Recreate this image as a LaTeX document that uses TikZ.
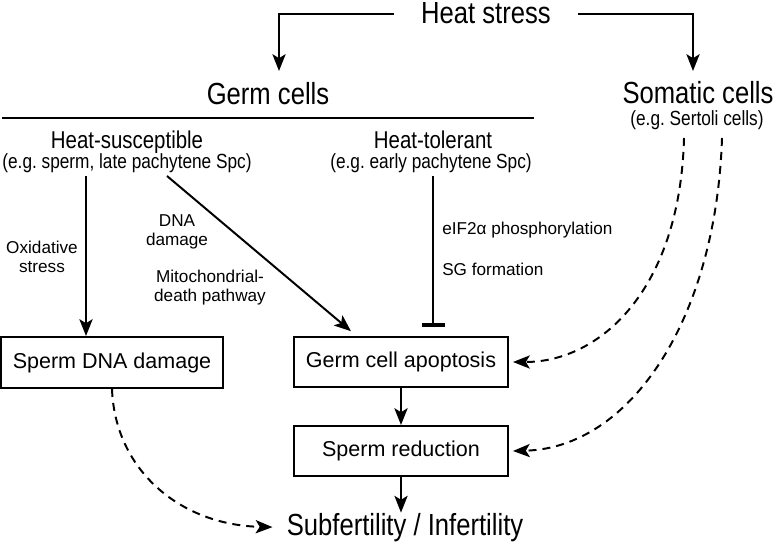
\documentclass[tikz,border=0pt]{standalone}
\usepackage{fontspec}
\setmainfont{Liberation Sans}
\newfontfamily\narrowfont{Liberation Sans}[FakeStretch=0.84]
\usetikzlibrary{arrows.meta}
\frenchspacing

\tikzset{
  arr/.style={-{Stealth[length=0.42cm,width=0.33cm,inset=0.1cm]}, line width=1.4pt},
  dasharr/.style={arr, dash pattern=on 0.2cm off 0.15cm},
  box/.style={draw, line width=1.4pt, minimum width=5.35cm, minimum height=1.25cm,
    inner sep=0pt, font=\fontsize{15.3}{18}\selectfont},
  bigtext/.style={inner sep=0pt, font=\narrowfont\fontsize{21.7}{26}\selectfont},
  midtext/.style={inner sep=0pt, font=\narrowfont\fontsize{17.3}{22}\selectfont},
  egtext/.style={inner sep=0pt, font=\narrowfont\fontsize{14.6}{18}\selectfont},
  smalltext/.style={inner sep=0pt, align=center, font=\fontsize{12.2}{14.2}\selectfont}
}

\begin{document}
\begin{tikzpicture}[x=0.025cm, y=-0.025cm]
  \useasboundingbox (0,0) rectangle (774,543);

  \coordinate (G) at (279,71);
  \coordinate (S) at (693,71);
  \coordinate (Ox) at (86,176);
  \coordinate (Dm) at (167,176);
  \coordinate (Tl) at (433,176);
  \coordinate (Tb) at (433,327);
  \coordinate (Sa) at (684,138);
  \coordinate (Sb) at (722,138);

  % Heat stress and the two cell groups
  \node[bigtext, anchor=base] (heat) at (486,24) {Heat stress};
  \node[bigtext, anchor=base] (germ) at (268,105) {Germ cells};
  \node[bigtext, anchor=base] (soma) at (698,104) {Somatic cells};
  \node[egtext, anchor=base] (sert) at (697,126) {(e.g. Sertoli cells)};

  \draw[arr] ([xshift=-0.675cm]heat.west) -| (G);
  \draw[arr] ([xshift=0.675cm]heat.east) -| (S);

  % Split of the germ cells
  \draw[line width=2.1pt] (2,118) -- (534,118);
  \node[midtext, anchor=base] (sus) at (127,149) {Heat-susceptible};
  \node[egtext, anchor=base] (susx) at (127,169) {(e.g. sperm, late pachytene Spc)};
  \node[midtext, anchor=base] (tol) at (433,149) {Heat-tolerant};
  \node[egtext, anchor=base] (tolx) at (431,169) {(e.g. early pachytene Spc)};

  % Boxes
  \node[box, minimum width=5.55cm, minimum height=1.275cm] (dna) at (112,362.5) {Sperm DNA damage};
  \node[box] (apo) at (401,362) {Germ cell apoptosis};
  \node[box] (red) at (401,451) {Sperm reduction};
  \node[bigtext, anchor=base] (infert) at (405,535) {Subfertility / Infertility};

  % Labels on the arrows
  \node[smalltext, anchor=base] (oxl) at (42,273) {Oxidative\\stress};
  \node[smalltext, anchor=base] (dml) at (177,246) {DNA\\damage};
  \node[smalltext, anchor=base] (mtl) at (210,302) {Mitochondrial-\\death pathway};
  \node[smalltext, anchor=base west] (eif) at (442,235) {eIF2α phosphorylation};
  \node[smalltext, anchor=base west] (sgl) at (442,276) {SG formation};

  % Arrows
  \draw[arr] (Ox) -- (Ox |- dna.north);
  \draw[arr] (Dm) -- ([xshift=-1.25cm, yshift=0.12cm]apo.north);
  \draw[line width=1.4pt, -{Bar[width=0.575cm, line width=3pt]}] (Tl) -- (Tb);
  \draw[arr] (apo) -- (red);
  \draw[arr] (red.south) -- (red.south |- infert.north);

  % Dashed effects
  \draw[dasharr] (Sa) .. controls (680,290) and (600,362) .. ([xshift=0.1cm]apo.east);
  \draw[dasharr] (Sb) .. controls (716,320) and (630,448) .. ([xshift=0.1cm]red.east);
  \draw[dasharr] (dna.south) .. controls (115,470) and (180,525) .. ([xshift=-0.35cm]infert.west);
\end{tikzpicture}
\end{document}
